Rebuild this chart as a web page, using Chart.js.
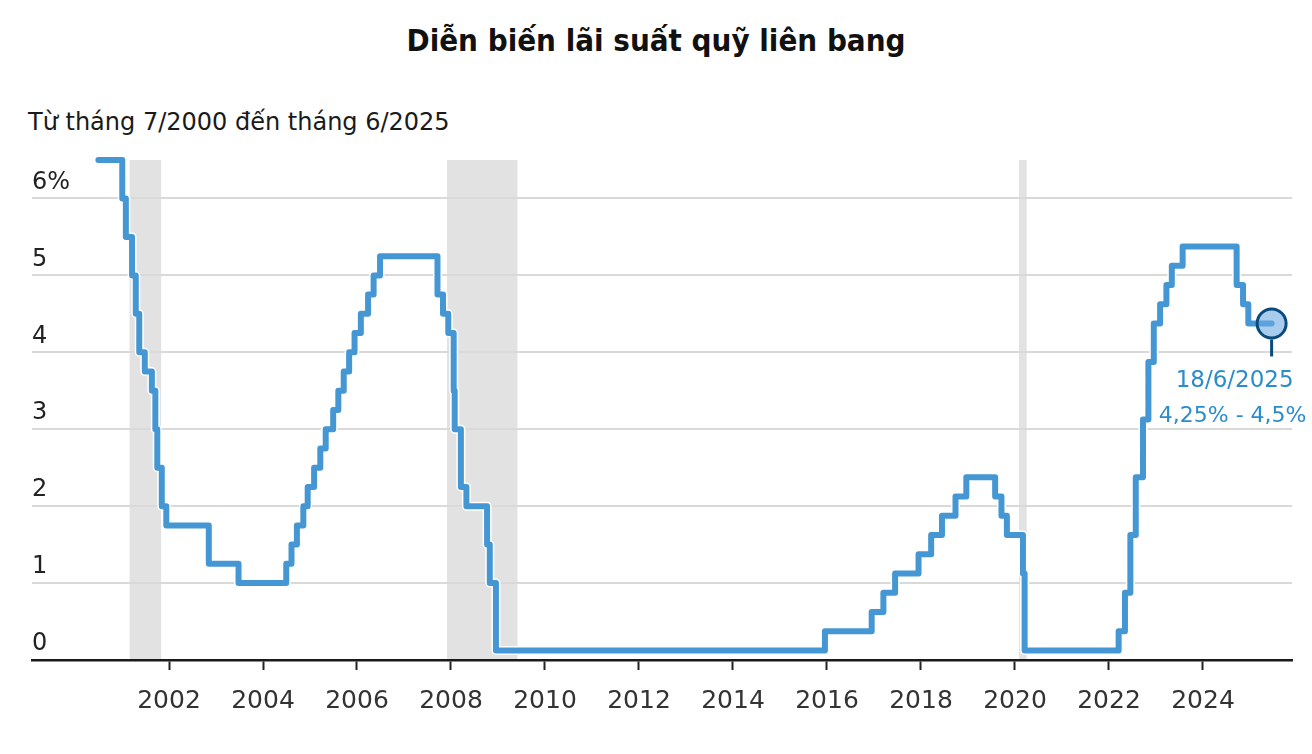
<!DOCTYPE html>
<html><head><meta charset="utf-8">
<script src="https://cdn.jsdelivr.net/npm/chart.js@4.4.1/dist/chart.umd.min.js"></script>
<style>
html,body{margin:0;padding:0;background:#fff;}
#wrap{position:relative;width:1312px;height:754px;overflow:hidden;background:#fff}
canvas{position:absolute;left:0;top:0}
#title{position:absolute;left:0;width:1312px;top:25px;text-align:center;font-family:"DejaVu Sans Condensed","DejaVu Sans",sans-serif;font-stretch:condensed;font-weight:bold;font-size:31px;line-height:1;color:#111;white-space:nowrap}
#subtitle{position:absolute;left:28px;top:110px;font-family:"DejaVu Sans",sans-serif;font-size:24px;line-height:1;color:#1a1a1a;white-space:nowrap}
</style></head>
<body><div id="wrap">
<div id="title">Diễn biến lãi suất quỹ liên bang</div>
<div id="subtitle">Từ tháng 7/2000 đến tháng 6/2025</div>
<canvas id="c" width="1312" height="754"></canvas>
</div>
<script>
// Federal funds target (midpoint of range), change dates
const rateDates = [
'2000-07-01',
'2001-01-03','2001-01-31','2001-03-20','2001-04-18','2001-05-15','2001-06-27','2001-08-21','2001-09-17','2001-10-02','2001-11-06','2001-12-11',
'2002-11-06',
'2003-06-25',
'2004-06-30','2004-08-10','2004-09-21','2004-11-10','2004-12-14',
'2005-02-02','2005-03-22','2005-05-03','2005-06-30','2005-08-09','2005-09-20','2005-11-01','2005-12-13',
'2006-01-31','2006-03-28','2006-05-10','2006-06-29',
'2007-09-18','2007-10-31','2007-12-11',
'2008-01-22','2008-01-30','2008-03-18','2008-04-30','2008-10-08','2008-10-29','2008-12-16',
'2015-12-16',
'2016-12-14',
'2017-03-15','2017-06-14','2017-12-13',
'2018-03-21','2018-06-13','2018-09-26','2018-12-19',
'2019-07-31','2019-09-18','2019-10-30',
'2020-03-03','2020-03-16',
'2022-03-17','2022-05-05','2022-06-16','2022-07-28','2022-09-22','2022-11-03','2022-12-15',
'2023-02-02','2023-03-23','2023-05-04','2023-07-27',
'2024-09-19','2024-11-08','2024-12-19',
'2025-06-18'
];
const rates = [
6.5,
6,5.5,5,4.5,4,3.75,3.5,3,2.5,2,1.75,
1.25,
1,
1.25,1.5,1.75,2,2.25,
2.5,2.75,3,3.25,3.5,3.75,4,4.25,
4.5,4.75,5,5.25,
4.75,4.5,4.25,
3.5,3,2.25,2,1.5,1,0.125,
0.375,
0.625,
0.875,1.125,1.375,
1.625,1.875,2.125,2.375,
2.125,1.875,1.625,
1.125,0.125,
0.375,0.875,1.625,2.375,3.125,3.875,4.375,
4.625,4.875,5.125,5.375,
4.875,4.625,4.375,
4.375
];
const recessionStarts = ['2001-03-01','2007-12-01','2020-02-01'];
const recessionEnds   = ['2001-11-01','2009-06-01','2020-04-01'];
const xTickYears = [2002,2004,2006,2008,2010,2012,2014,2016,2018,2020,2022,2024];
const yTickValues = [0,1,2,3,4,5,6];
const annotDate = '18/6/2025';
const annotRange = '4,25% - 4,5%';

function toYear(s){
  const d = new Date(s+'T00:00:00Z');
  const y = d.getUTCFullYear();
  const a = Date.UTC(y,0,1), b = Date.UTC(y+1,0,1);
  return y + (d.getTime()-a)/(b-a);
}
const points = rateDates.map((d,i)=>({x:toYear(d), y:rates[i]}));
const lastPoint = points[points.length-1];

const recessionPlugin = {
  id:'recessions',
  beforeDraw(chart){
    const {ctx, chartArea:{top,bottom}} = chart;
    const xs = chart.scales.x;
    ctx.save();
    ctx.fillStyle = '#e2e2e2';
    recessionStarts.forEach((s,i)=>{
      const x1 = xs.getPixelForValue(toYear(s));
      const x2 = xs.getPixelForValue(toYear(recessionEnds[i]));
      ctx.fillRect(x1, top, x2-x1, bottom-top);
    });
    ctx.restore();
  }
};
const annotPlugin = {
  id:'annot',
  afterDatasetsDraw(chart){
    const {ctx} = chart;
    const el = chart.getDatasetMeta(0).data[0];
    const x = el.x, y = el.y;
    ctx.save();
    ctx.strokeStyle = '#0b4a7c';
    ctx.lineWidth = 3;
    ctx.beginPath(); ctx.moveTo(x, y+16); ctx.lineTo(x, y+33); ctx.stroke();
    ctx.fillStyle = '#2b8ccb';
    ctx.font = '23px "DejaVu Sans"';
    ctx.textAlign = 'center';
    ctx.textBaseline = 'middle';
    ctx.fillText(annotDate, x-37, y+58);
    ctx.font = '22px "DejaVu Sans"';
    ctx.fillText(annotRange, x-39, y+93);
    ctx.restore();
  }
};

new Chart(document.getElementById('c'), {
  type:'line',
  data:{
    datasets:[
      {data:[lastPoint], showLine:false, pointRadius:14.5, pointHoverRadius:14.5,
       pointBackgroundColor:'rgba(110,170,225,0.6)', pointBorderColor:'#0b4a7c', pointBorderWidth:3, clip:false, order:0},
      {data:points, stepped:true, borderColor:'#4597d4', borderWidth:6, pointRadius:0,
       borderJoinStyle:'round', borderCapStyle:'round', clip:false, order:1},
      {data:points, stepped:true, borderColor:'#ffffff', borderWidth:9, pointRadius:0,
       borderJoinStyle:'round', borderCapStyle:'round', clip:false, order:2}
    ]
  },
  options:{
    responsive:false, animation:false,
    layout:{padding:{top:160, left:32, right:20, bottom:0}},
    plugins:{legend:{display:false}, tooltip:{enabled:false}},
    scales:{
      x:{type:'linear', min:1999.085, max:2025.894,
        afterBuildTicks(s){ s.ticks = xTickYears.map(v=>({value:v})); },
        afterFit(s){ s.height = 94; },
        grid:{drawOnChartArea:false, drawTicks:true, tickLength:10, tickColor:'#222', tickWidth:2},
        border:{display:true, color:'#1a1a1a', width:2.5},
        ticks:{color:'#333', font:{family:'DejaVu Sans', size:25}, padding:16, maxRotation:0,
          callback:v=>String(v)}
      },
      y:{type:'linear', min:0, max:6.5,
        afterBuildTicks(s){ s.ticks = yTickValues.map(v=>({value:v})); },
        afterFit(s){ s.width = 0; },
        grid:{color:'#d9d9d9', lineWidth:2, drawTicks:false},
        border:{display:false},
        ticks:{mirror:true, padding:0, labelOffset:-16, color:'#222',
          font:{family:'DejaVu Sans', size:24},
          callback:v=> v===6 ? '6%' : String(v)}
      }
    }
  },
  plugins:[recessionPlugin, annotPlugin]
});
</script>
</body></html>
